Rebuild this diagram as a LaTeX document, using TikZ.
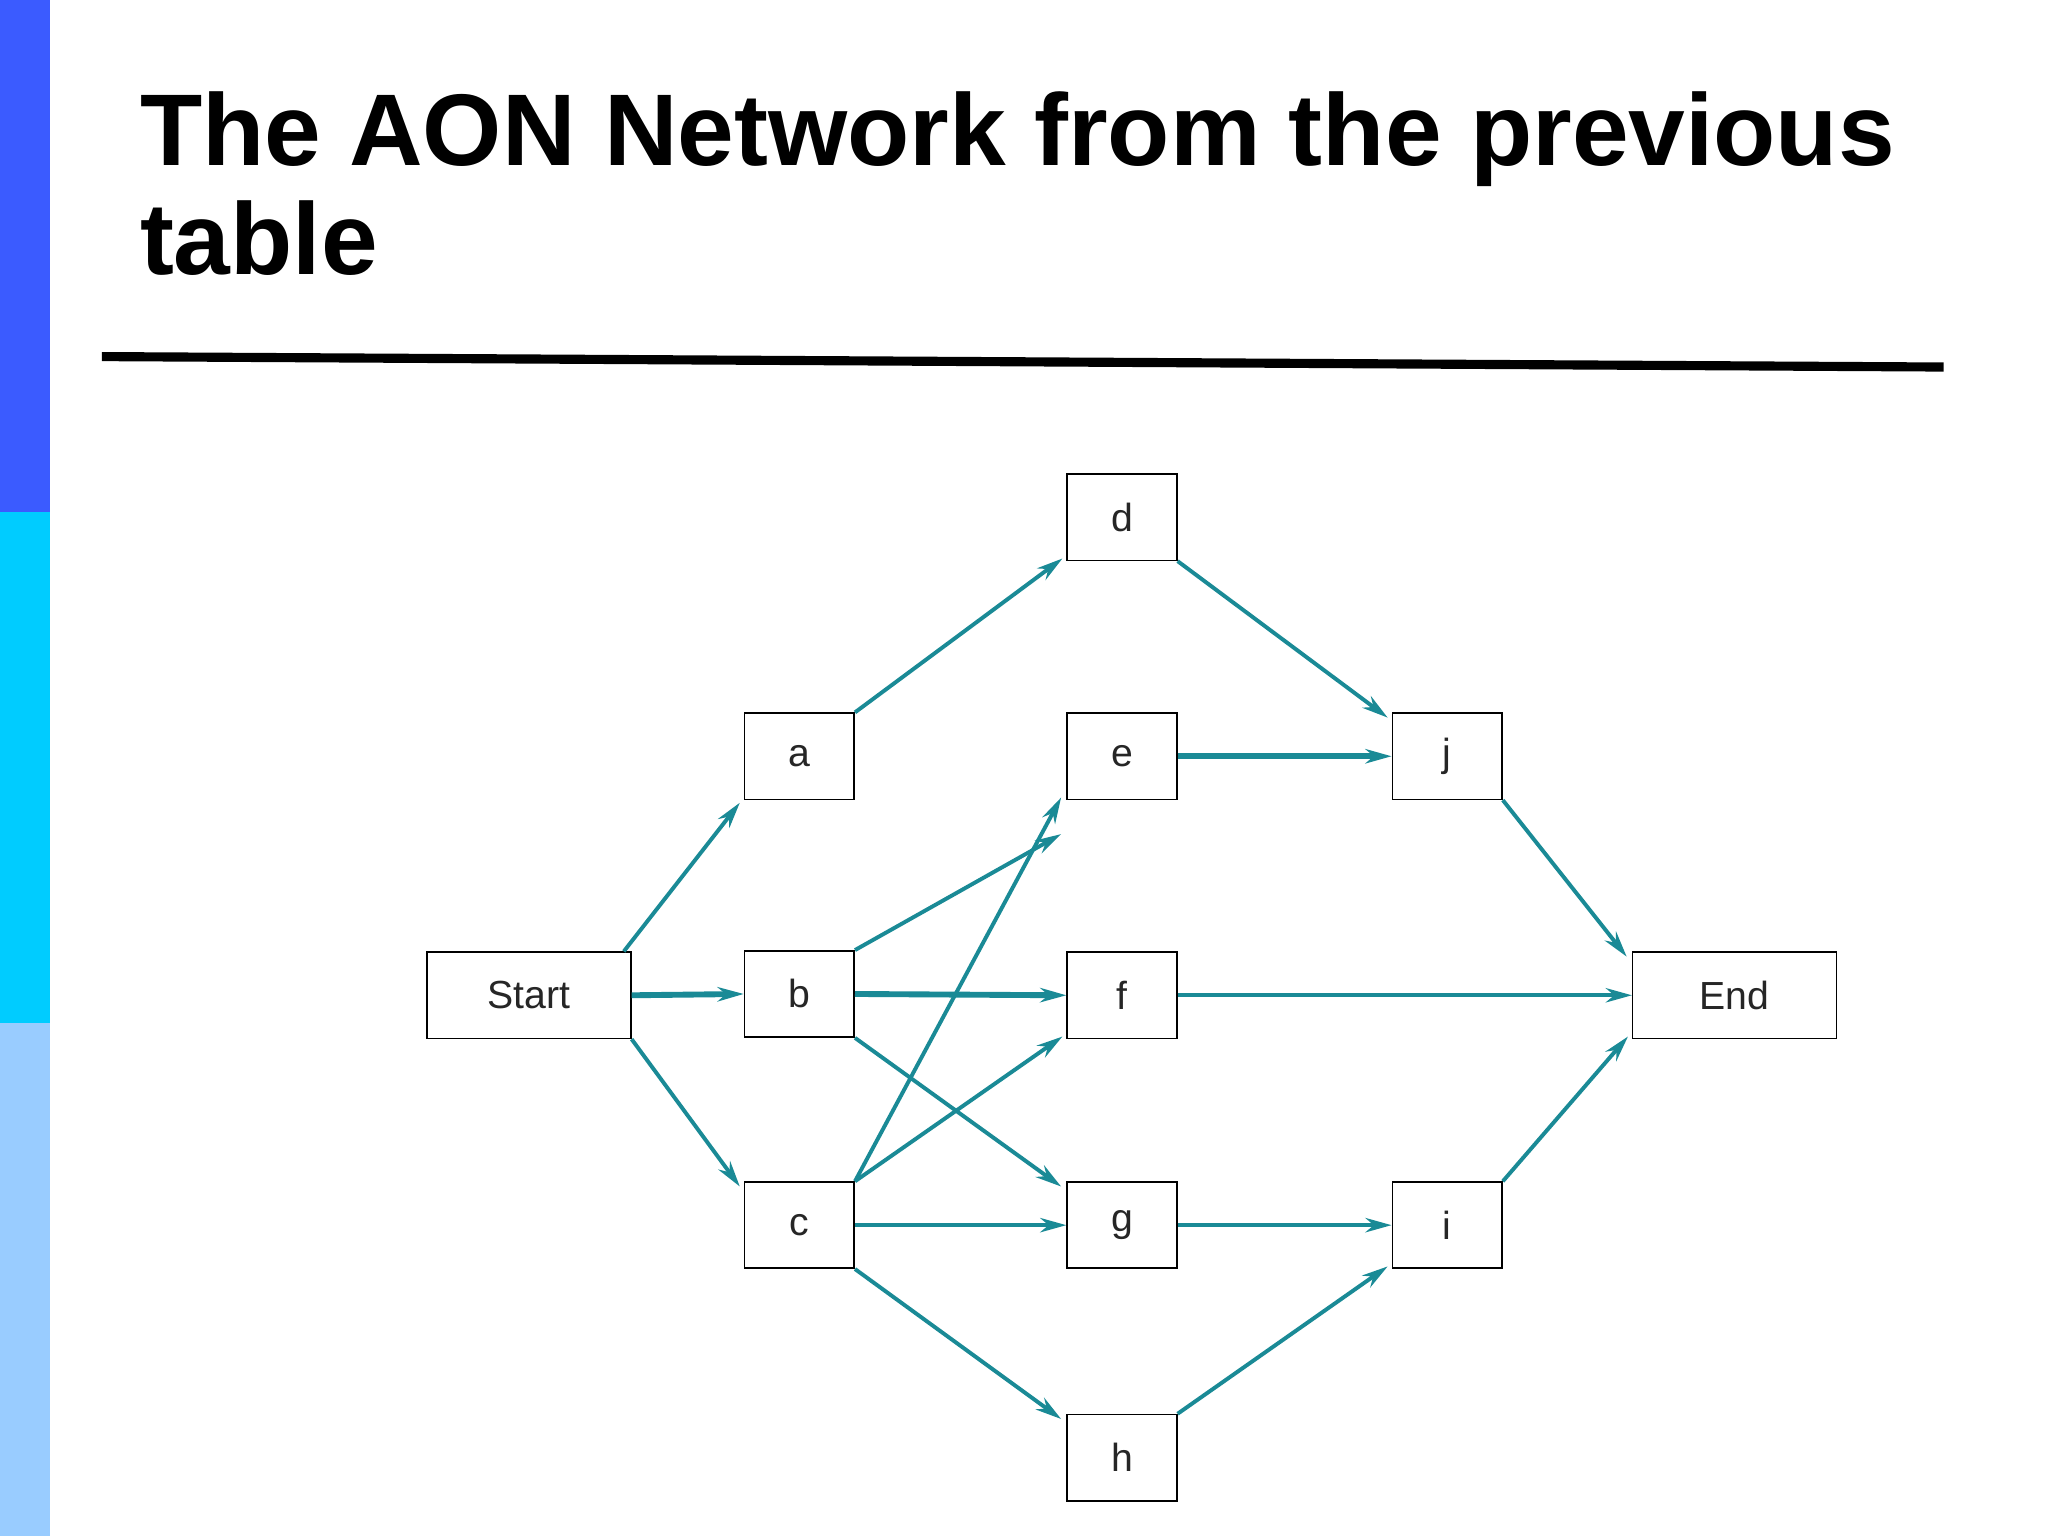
\documentclass[tikz,border=0pt]{standalone}
\usepackage{fontspec}
\setmainfont{Liberation Sans}
\usetikzlibrary{arrows.meta}
\definecolor{teal1}{HTML}{1A8A96}
\begin{document}
\begin{tikzpicture}[x=1pt,y=-1pt,
  box/.style={draw=black,line width=1.2pt,minimum width=84pt,minimum height=66pt,inner sep=0pt,font=\fontsize{30}{30}\selectfont,text=black!85},
  wbox/.style={box,minimum width=156pt},
  ar/.style={draw=teal1,line width=3pt,-{Stealth[length=20pt,width=11pt]}},
  tk/.style={ar,line width=4.5pt}]
\useasboundingbox (0,0) rectangle (1568,1176);
\fill[white] (0,0) rectangle (1568,1176);
\fill[fill={rgb,255:red,59;green,91;blue,255}] (0,0) rectangle (38,392);
\fill[fill={rgb,255:red,0;green,204;blue,255}] (0,392) rectangle (38,783);
\fill[fill={rgb,255:red,153;green,204;blue,255}] (0,783) rectangle (38,1176);
\node[anchor=base west,font=\fontsize{78}{84}\selectfont\bfseries,inner sep=0pt] (t1) at (107,127) {The AON Network from the previous};
\node[anchor=base west,font=\fontsize{78}{84}\selectfont\bfseries,inner sep=0pt] (t2) at (107,210) {table};
\draw[line width=7pt] (78,273) -- (1488,281);
\node[box] (d) at (859,396) {d};
\node[box] (a) at (612,579) {a};
\node[box] (e) at (859,579) {e};
\node[box] (j) at (1108,579) {j};
\node[wbox] (Start) at (405,762) {Start};
\node[box] (b) at (612,761) {b};
\node[box] (f) at (859,762) {f};
\node[wbox] (End) at (1328,762) {End};
\node[box] (c) at (612,938) {c};
\node[box] (g) at (859,938) {g};
\node[box] (i) at (1108,938) {i};
\node[box] (h) at (859,1116) {h};
\draw[ar] ([xshift=-6pt]Start.north east) -- ([xshift=-3pt,yshift=-2pt]a.south west);
\draw[ar] (a.north east) -- ([xshift=-3pt,yshift=2pt]d.south west);
\draw[ar] (d.south east) -- ([xshift=-3pt,yshift=-4pt]j.north west);
\draw[tk] (e.east) -- (j.west);
\draw[ar] (j.south east) -- ([xshift=-4pt,yshift=-4pt]End.north west);
\draw[tk] (Start.east) -- (b.west);
\draw[ar] (Start.south east) -- ([xshift=-3pt,yshift=-4pt]c.north west);
\draw[ar] (b.north east) -- ([xshift=-4pt,yshift=-26pt]e.south west);
\draw[tk] (b.east) -- (f.west);
\draw[ar] (b.south east) -- ([xshift=-4pt,yshift=-4pt]g.north west);
\draw[ar] (c.north east) -- ([xshift=-4pt,yshift=2pt]e.south west);
\draw[ar] (c.north east) -- ([xshift=-3pt,yshift=2pt]f.south west);
\draw[ar] (c.east) -- (g.west);
\draw[ar] (c.south east) -- ([xshift=-4pt,yshift=-4pt]h.north west);
\draw[ar] (f.east) -- (End.west);
\draw[ar] (g.east) -- (i.west);
\draw[ar] (h.north east) -- ([xshift=-3pt,yshift=2pt]i.south west);
\draw[ar] (i.north east) -- ([xshift=-3pt,yshift=2pt]End.south west);
\end{tikzpicture}
\end{document}
